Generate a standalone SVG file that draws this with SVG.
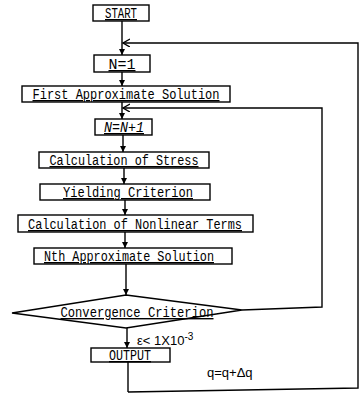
<svg xmlns="http://www.w3.org/2000/svg" width="364" height="394" viewBox="0 0 364 394">
<style>
.box{fill:#fff;stroke:#000;stroke-width:1.4}
.t{font-family:"Liberation Mono","DejaVu Sans Mono",monospace;font-size:14px;fill:#000;text-anchor:middle;text-decoration:underline}
.s{font-family:"Liberation Sans",Arial,sans-serif;font-size:13px;fill:#000}
.ln{fill:none;stroke:#000;stroke-width:1.4}
</style>
<defs>
<marker id="ah" markerWidth="8" markerHeight="8" refX="6" refY="3" orient="auto" markerUnits="userSpaceOnUse">
<path d="M0,0 L6,3 L0,6 Z" fill="#000"/>
</marker>
<marker id="oa" markerWidth="10" markerHeight="10" refX="7" refY="4" orient="auto" markerUnits="userSpaceOnUse">
<path d="M0,0 L7,4 L0,8" fill="none" stroke="#000" stroke-width="1.4"/>
</marker>
</defs>
<g id="connectors">
<line class="ln" x1="122" y1="21" x2="122" y2="55" marker-end="url(#ah)"/>
<polyline class="ln" points="128,392 358,388 358,43 123,43" marker-end="url(#oa)"/>
<line class="ln" x1="122" y1="72" x2="122" y2="86" marker-end="url(#ah)"/>
<line class="ln" x1="122" y1="102" x2="122" y2="119" marker-end="url(#ah)"/>
<polyline class="ln" points="242,310 322,307 322,108 123,108" marker-end="url(#oa)"/>
<line class="ln" x1="123" y1="135" x2="123" y2="152" marker-end="url(#ah)"/>
<line class="ln" x1="124" y1="168" x2="124" y2="184" marker-end="url(#ah)"/>
<line class="ln" x1="125" y1="200" x2="125" y2="215" marker-end="url(#ah)"/>
<line class="ln" x1="125" y1="232" x2="125" y2="248" marker-end="url(#ah)"/>
<line class="ln" x1="126" y1="264" x2="126" y2="295" marker-end="url(#ah)"/>
<line class="ln" x1="127" y1="328" x2="127" y2="348" marker-end="url(#ah)"/>
<line class="ln" x1="128" y1="362" x2="128" y2="392"/>
</g>
<g id="start"><rect class="box" x="93" y="5" width="56" height="16"/><text class="t" x="121" y="18" textLength="32" lengthAdjust="spacingAndGlyphs">START</text></g>
<g id="n1"><rect class="box" x="94" y="55" width="56" height="17"/><text class="t" x="122" y="69" textLength="27" lengthAdjust="spacingAndGlyphs">N=1</text></g>
<g id="first"><rect class="box" x="22" y="86" width="208" height="16"/><text class="t" x="126" y="99" textLength="187" lengthAdjust="spacingAndGlyphs">First Approximate Solution</text></g>
<g id="nn1"><rect class="box" x="95" y="119" width="57" height="16"/><text class="t" x="124" y="132" textLength="40" lengthAdjust="spacingAndGlyphs" font-style="italic">N=N+1</text></g>
<g id="stress"><rect class="box" x="39" y="152" width="170" height="16"/><text class="t" x="124" y="165" textLength="149" lengthAdjust="spacingAndGlyphs">Calculation of Stress</text></g>
<g id="yield"><rect class="box" x="40" y="184" width="170" height="16"/><text class="t" x="128" y="197" textLength="130" lengthAdjust="spacingAndGlyphs">Yielding Criterion</text></g>
<g id="nonlin"><rect class="box" x="18" y="215" width="235" height="17"/><text class="t" x="135" y="229" textLength="214" lengthAdjust="spacingAndGlyphs">Calculation of Nonlinear Terms</text></g>
<g id="nth"><rect class="box" x="34" y="248" width="198" height="16"/><text class="t" x="129" y="261" textLength="170" lengthAdjust="spacingAndGlyphs">Nth Approximate Solution</text></g>
<g id="conv"><polygon class="box" points="126,295 242,310 126,328 12,313"/><text class="t" x="137" y="317" textLength="153" lengthAdjust="spacingAndGlyphs">Convergence Criterion</text></g>
<g id="output"><rect class="box" x="91" y="348" width="79" height="14"/><text class="t" x="130" y="360" textLength="42" lengthAdjust="spacingAndGlyphs">OUTPUT</text></g>
<text class="s" x="137" y="345">ε&lt; 1X10<tspan font-size="10" dy="-5">-3</tspan></text>
<text class="s" x="207" y="377">q=q+Δq</text>
</svg>
